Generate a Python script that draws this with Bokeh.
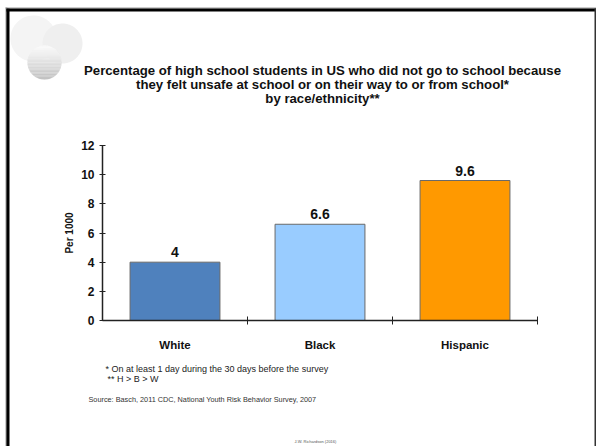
import numpy as np
from bokeh.plotting import figure
from bokeh.models import Range1d, FixedTicker, Label, PolyAnnotation, BoxAnnotation
from bokeh.core.properties import value
from bokeh.embed import file_html
from bokeh.resources import INLINE

# --- data -------------------------------------------------------------
categories = ["White", "Black", "Hispanic"]
values = [4, 6.6, 9.6]
bar_colors = ["#4F81BD", "#99CCFF", "#FF9900"]
y_ticks = [0, 2, 4, 6, 8, 10, 12]
y_max = 12

title_lines = [
    "Percentage of high school students in US who did not go to school because",
    "they felt unsafe at school or on their way to or from school*",
    "by race/ethnicity**",
]
footnotes = [
    "* On at least 1 day during the 30 days before the survey",
    "** H > B > W",
]
source_text = "Source: Basch, 2011 CDC, National Youth Risk Behavior Survey, 2007"
author_text = "J.W. Richardson (2016)"

# --- page geometry (pixels) --------------------------------------------
W, H = 596, 446
AX_L, AX_R, AX_T, AX_B = 102, 537, 145, 320   # chart box inside the slide
FONT = "Liberation Sans"

n = len(categories)
kx = (AX_R - AX_L) / n          # pixels per category
ky = (AX_B - AX_T) / y_max      # pixels per unit
x_range = Range1d(-AX_L / kx, n + (W - AX_R) / kx)
y_range = Range1d(-(H - AX_B) / ky, y_max + AX_T / ky)

p = figure(width=W, height=H, output_backend="svg", toolbar_location=None,
           x_range=x_range, y_range=y_range,
           min_border=0, min_border_left=0, min_border_right=0,
           min_border_top=0, min_border_bottom=0,
           background_fill_color="white", border_fill_color="white")
p.outline_line_color = None
p.grid.grid_line_color = None


def sx(cx):
    return cx


def sy(cy):
    return H - cy


# --- decorative circles in the top-left corner ------------------------
def circle_pts(cx, cy, r, m=90):
    t = np.linspace(0, 2 * np.pi, m)
    return [sx(v) for v in cx + r * np.cos(t)], [sy(v) for v in cy + r * np.sin(t)]


for (cx, cy, r, col) in [(33, 38, 23, "#f4f4f4"), (62, 43, 20, "#efefef")]:
    xs, ys = circle_pts(cx, cy, r)
    p.add_layout(PolyAnnotation(xs=xs, ys=ys, xs_units="screen", ys_units="screen",
                                fill_color=col, fill_alpha=1, line_color=None,
                                level="underlay"))

# shaded sphere: horizontal bands getting darker towards the bottom
gcx, gcy, gr = 44, 62, 17
nb = 24
edges = np.linspace(gcy - gr, gcy + gr, nb + 1)
for i in range(nb):
    y0, y1 = edges[i], edges[i + 1]
    yy = np.linspace(y0, y1, 6)
    half = np.sqrt(np.clip(gr ** 2 - (yy - gcy) ** 2, 0, None))
    xs = list(gcx + half) + list(gcx - half[::-1])
    ys = list(yy) + list(yy[::-1])
    f = i / (nb - 1)
    g = int(round(250 - 55 * f ** 1.2))
    col = "#%02x%02x%02x" % (g, g, g)
    p.add_layout(PolyAnnotation(xs=[sx(v) for v in xs], ys=[sy(v) for v in ys],
                                xs_units="screen", ys_units="screen",
                                fill_color=col, fill_alpha=1, line_color=col,
                                line_width=0.5, level="underlay"))

# --- slide frame --------------------------------------------------------
for (l, r, t, b, col) in [(5, 7, 7, 460, "#9a9a9a"), (6, 9, 8, 460, "black"),
                          (5, 600, 7, 8, "#9a9a9a"), (6, 600, 8, 11, "black"),
                          (594, 596, 8, 460, "#333333")]:
    p.add_layout(BoxAnnotation(left=sx(l), right=sx(r), top=sy(t), bottom=sy(b),
                               left_units="screen", right_units="screen",
                               top_units="screen", bottom_units="screen",
                               fill_color=col, fill_alpha=1, line_color=None,
                               level="overlay"))

# --- bars ---------------------------------------------------------------
xpos = [i + 0.5 for i in range(n)]
p.vbar(x=xpos, top=values, width=0.62, bottom=0,
       fill_color=bar_colors, line_color="#6a6a6a", line_width=1)

p.text(x=xpos, y=values, text=[("%g" % v) for v in values],
       text_align="center", text_baseline="bottom", y_offset=-5,
       text_font_size="14px", text_font_style="bold", text_font=value(FONT),
       text_color="#111111")

# --- axes (pinned at the origin, limited to the data extent) ----------
xa = p.xaxis[0]
xa.fixed_location = 0
xa.bounds = (0, n)
xa.ticker = FixedTicker(ticks=xpos, minor_ticks=list(range(1, n + 1)))
xa.major_label_overrides = {x: c for x, c in zip(xpos, categories)}
xa.major_tick_line_color = None
xa.major_tick_in = 0
xa.major_tick_out = 0
xa.minor_tick_in = 4
xa.minor_tick_out = 4
xa.minor_tick_line_color = "#222222"
xa.minor_tick_line_width = 1
xa.axis_line_color = "#222222"
xa.axis_line_width = 1.5
xa.major_label_standoff = 14
xa.major_label_text_font = FONT
xa.major_label_text_font_size = "11.5px"
xa.major_label_text_font_style = "bold"
xa.major_label_text_color = "#111111"

ya = p.yaxis[0]
ya.fixed_location = 0
ya.bounds = (0, y_max)
ya.ticker = FixedTicker(ticks=y_ticks, minor_ticks=[])
ya.major_tick_in = 3
ya.major_tick_out = 3
ya.major_tick_line_color = "#222222"
ya.axis_line_color = "#222222"
ya.axis_line_width = 1.5
ya.major_label_standoff = 5
ya.major_label_text_font = FONT
ya.major_label_text_font_size = "12px"
ya.major_label_text_font_style = "bold"
ya.major_label_text_color = "#111111"
ya.axis_label = "Per 1000"
ya.axis_label_standoff = 3
ya.axis_label_text_font = FONT
ya.axis_label_text_font_size = "10px"
ya.axis_label_text_font_style = "bold"
ya.axis_label_text_color = "#111111"

# --- texts --------------------------------------------------------------
for line, cy in zip(title_lines, [70, 84, 98]):
    p.add_layout(Label(x=sx(322), y=sy(cy), x_units="screen", y_units="screen",
                       text=line, text_align="center", text_baseline="middle",
                       text_font=FONT, text_font_size="13.2px", text_font_style="bold",
                       text_color="#111111"))

for line, (cx, cy) in zip(footnotes, [(105, 368), (107, 378)]):
    p.add_layout(Label(x=sx(cx), y=sy(cy), x_units="screen", y_units="screen",
                       text=line, text_align="left", text_baseline="middle",
                       text_font=FONT, text_font_size="9px", text_color="#222222"))

p.add_layout(Label(x=sx(88), y=sy(399), x_units="screen", y_units="screen",
                   text=source_text, text_align="left", text_baseline="middle",
                   text_font=FONT, text_font_size="7.3px", text_color="#333333"))

p.add_layout(Label(x=sx(315), y=sy(441), x_units="screen", y_units="screen",
                   text=author_text, text_align="center", text_baseline="middle",
                   text_font=FONT, text_font_size="4px", text_color="#555555"))

open("out.html", "w").write(file_html(p, INLINE))
